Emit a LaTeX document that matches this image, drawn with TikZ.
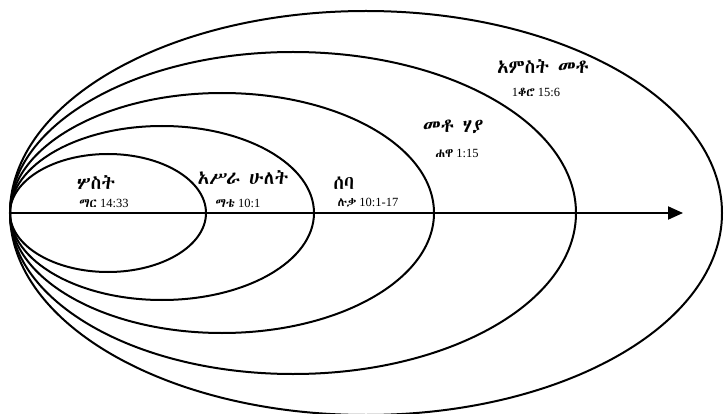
\documentclass[tikz,border=0pt]{standalone}
\usepackage{fontspec}
\setmainfont{Liberation Serif}
\IfFontExistsTF{Abyssinica SIL}{\newfontfamily\ethfont{Abyssinica SIL}}{%
	\IfFontExistsTF{FreeSerif}{\newfontfamily\ethfont{FreeSerif}}{%
		\IfFontExistsTF{Ethiopia Jiret}{\newfontfamily\ethfont{Ethiopia Jiret}}{%
			\newfontfamily\ethfont{DejaVu Sans}}}}
\usetikzlibrary{arrows.meta}

\tikzset{
	numtext/.style={font=\ethfont\fontsize{19}{19}\selectfont, inner sep=0pt},
	reftext/.style={font=\fontsize{12.5}{12.5}\selectfont, inner sep=0pt}
}

\begin{document}
\begin{tikzpicture}[x=1pt, y=-1pt, line width=2pt]
\useasboundingbox (0,0) rectangle (725,414);

\def\ly{213}
\foreach \rx/\ry in {98/59,152/87,212/120,283/161,356/202}{
	\draw (10+\rx, \ly) ellipse [x radius=\rx, y radius=\ry];
}

\coordinate (start) at (10, \ly);
\coordinate (tip) at (683, \ly);
\draw[-{Triangle[length=15pt, width=13pt]}] (start) -- (tip);

\node[numtext] (three) at (96, 183) {ሦስት};
\node[reftext] (threeref) at (104, 203) {{\ethfont ማር} 14:33};
\node[numtext] (twelve) at (243, 178) {አሥራ ሁለት};
\node[reftext] (twelveref) at (238, 203) {{\ethfont ማቴ} 10:1};
\node[numtext] (seventy) at (344, 183) {ሰባ};
\node[reftext] (seventyref) at (368, 203) {{\ethfont ሉቃ} 10:1-17};
\node[numtext] (onetwenty) at (453, 127) {መቶ ሃያ};
\node[reftext] (onetwentyref) at (457, 153) {{\ethfont ሐዋ} 1:15};
\node[numtext] (fivehundred) at (543, 67) {አምስት መቶ};
\node[reftext] (fivehundredref) at (536, 92) {1{\ethfont ቆሮ} 15:6};

\end{tikzpicture}
\end{document}
